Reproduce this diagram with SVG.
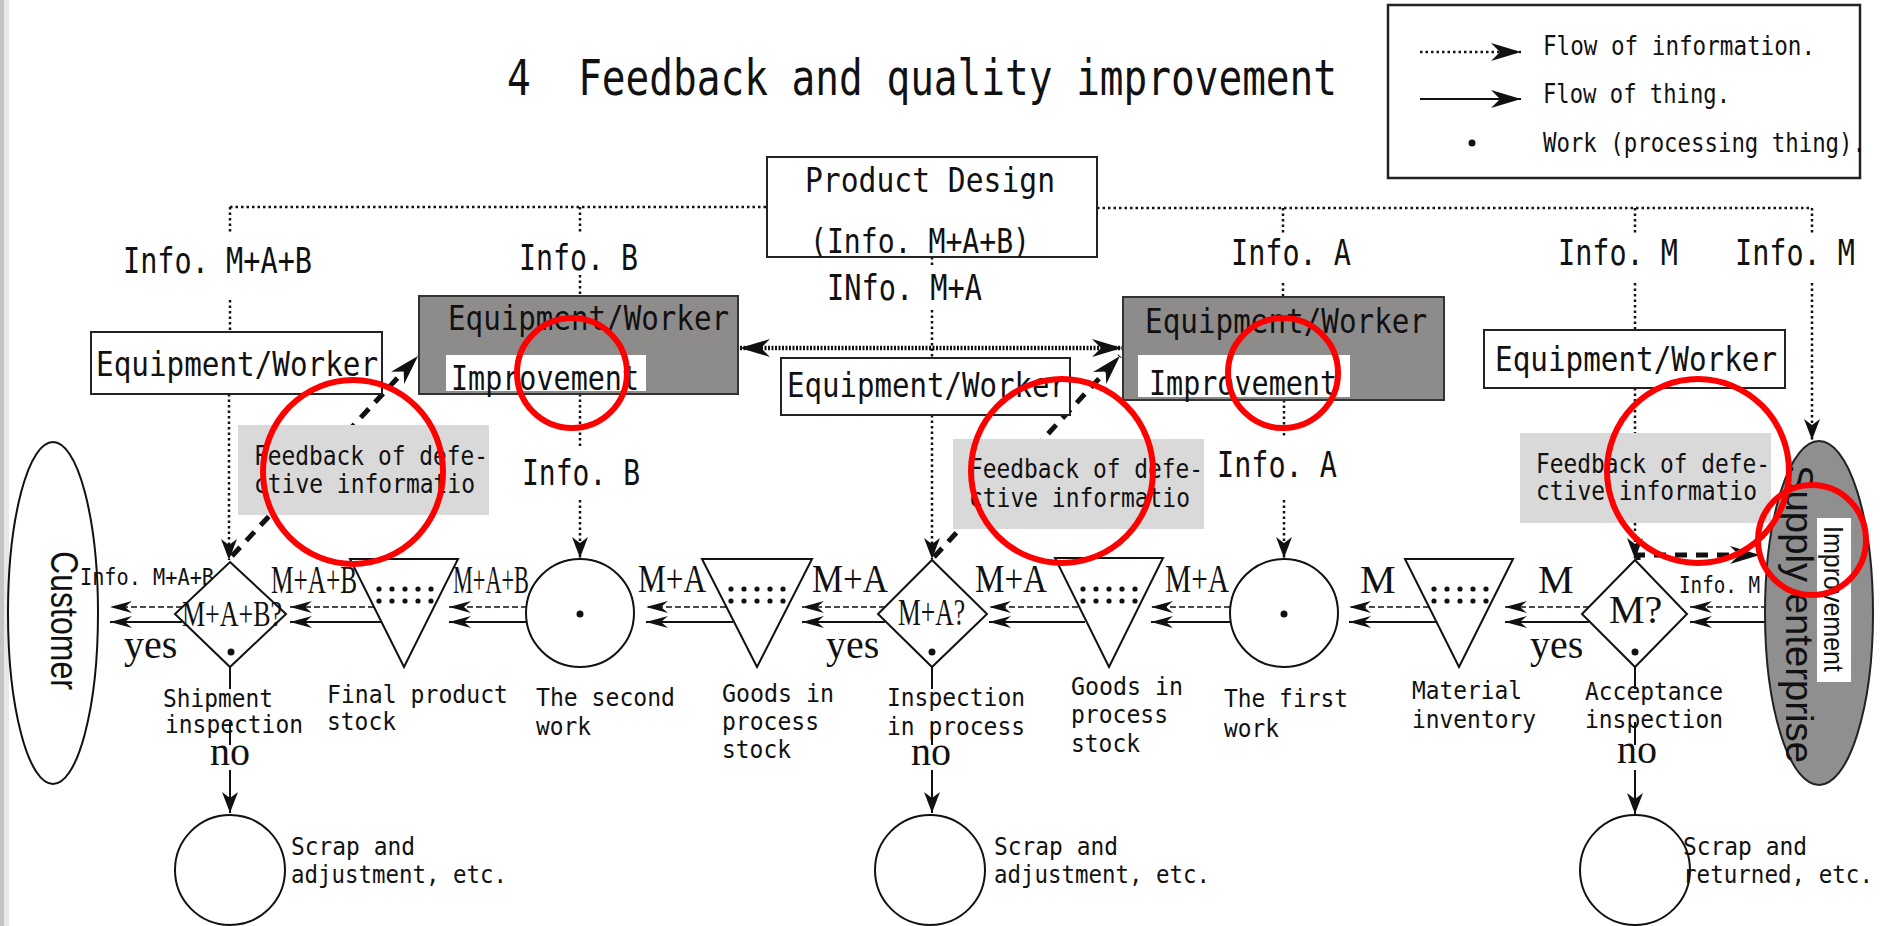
<svg xmlns="http://www.w3.org/2000/svg" width="1880" height="926" viewBox="0 0 1880 926">
<defs>
<style>
.g{font-family:"DejaVu Sans Mono","Liberation Mono",monospace;fill:#111}
.s{font-family:"Liberation Serif","DejaVu Serif",serif;fill:#111}
.ss{font-family:"Liberation Sans","DejaVu Sans",sans-serif;fill:#111}
.box{fill:#fff;stroke:#222;stroke-width:2}
.dark{fill:#8e8b8b;stroke:#333;stroke-width:2}
.inner{fill:#fff}
.fb{fill:#d9d9d9}
.shape{fill:#fff;stroke:#111;stroke-width:2}
.dot{stroke:#111;stroke-width:2.5;stroke-dasharray:2.5 3;fill:none}
.tdot{stroke:#111;stroke-width:4.5;stroke-dasharray:2 1.5;fill:none}
.dash{stroke:#111;stroke-width:1.6;stroke-dasharray:6 3;fill:none}
.solid{stroke:#111;stroke-width:2;fill:none}
.thick{stroke:#111;stroke-width:5;stroke-dasharray:12 9;fill:none}
.red{fill:none;stroke:#f00;stroke-width:6}
.pt{fill:#111}
</style>
<marker id="af" markerUnits="userSpaceOnUse" markerWidth="24" markerHeight="14" refX="22" refY="7" orient="auto"><path d="M0,1 L22,7 L0,13 L7,7 z" fill="#111"/></marker>
<marker id="ab" markerUnits="userSpaceOnUse" markerWidth="32" markerHeight="20" refX="30" refY="10" orient="auto-start-reverse"><path d="M0,1 L30,10 L0,19 L9,10 z" fill="#111"/></marker>
<marker id="av" markerUnits="userSpaceOnUse" markerWidth="22" markerHeight="18" refX="21" refY="9" orient="auto"><path d="M0,1 L21,9 L0,17 L6,9 z" fill="#111"/></marker>
</defs>
<rect x="0" y="0" width="1880" height="926" fill="#fff"/>
<rect x="0" y="0" width="4" height="926" fill="#c4c4c4"/>
<rect x="4" y="0" width="5" height="926" fill="#e8e8e8"/>

<g id="title"><text class="g" x="507" y="95" font-size="50" textLength="830" lengthAdjust="spacingAndGlyphs" xml:space="preserve">4  Feedback and quality improvement</text></g>

<g id="legend">
<rect x="1388" y="5" width="472" height="173" fill="#fff" stroke="#222" stroke-width="2.5"/>
<path class="dot" d="M1420,52 H1521" marker-end="url(#ab)"/>
<path class="solid" d="M1420,99 H1521" marker-end="url(#ab)"/>
<circle class="pt" cx="1472" cy="143" r="3.5"/>
<text class="g" x="1543" y="55" font-size="27" textLength="272" lengthAdjust="spacingAndGlyphs">Flow of information.</text>
<text class="g" x="1543" y="103" font-size="27" textLength="187" lengthAdjust="spacingAndGlyphs">Flow of thing.</text>
<text class="g" x="1543" y="152" font-size="27" textLength="323" lengthAdjust="spacingAndGlyphs">Work (processing thing).</text>
</g>

<g id="connectors">
<path class="dot" d="M230,207 H767 M1097,208 H1812"/>
<path class="dot" d="M230,207 V233 M580,207 V233 M1283,208 V233 M1635,208 V233 M1812,208 V233"/>
<path class="dot" d="M230,300 V332 M580,275 V296 M1283,283 V296 M1635,283 V330 M932,257 V268 M932,310 V358 M580,394 V447 M1284,400 V437 M1635,388 V433"/>
<path class="dot" d="M1812,283 V440" marker-end="url(#av)"/>
<path class="dot" d="M932,415 V559" marker-end="url(#av)"/>
<path class="dot" d="M229,394 V560" marker-end="url(#av)"/>
<path class="dot" d="M580,500 V558" marker-end="url(#av)"/>
<path class="dot" d="M1284,500 V558" marker-end="url(#av)"/>
<path class="dot" d="M1635,523 V559" marker-end="url(#av)"/>
<path class="tdot" d="M740,348 H1122" marker-start="url(#ab)" marker-end="url(#ab)"/>
<path class="thick" d="M232,556 L418,356" marker-end="url(#ab)"/>
<path class="thick" d="M934,557 L1120,356" marker-end="url(#ab)"/>
<path class="thick" d="M1638,560 V555 H1760" marker-end="url(#ab)"/>
<g marker-end="url(#af)">
<path class="dash" d="M1767,607 H1690"/><path class="solid" d="M1767,622 H1690"/>
<path class="dash" d="M1589,607 H1505"/><path class="solid" d="M1589,622 H1505"/>
<path class="dash" d="M1429,607 H1349"/><path class="solid" d="M1436,622 H1349"/>
<path class="dash" d="M1230,607 H1151"/><path class="solid" d="M1230,622 H1151"/>
<path class="dash" d="M1078,607 H989"/><path class="solid" d="M1085,622 H989"/>
<path class="dash" d="M885,607 H802"/><path class="solid" d="M885,622 H802"/>
<path class="dash" d="M726,607 H646"/><path class="solid" d="M733,622 H646"/>
<path class="dash" d="M527,607 H449"/><path class="solid" d="M527,622 H449"/>
<path class="dash" d="M374,607 H290"/><path class="solid" d="M381,622 H290"/>
<path class="dash" d="M182,607 H110"/><path class="solid" d="M182,622 H110"/>
</g>
<path class="solid" d="M230,667 V689 M230,722 V745 M932,667 V689 M932,722 V745 M1635,667 V689 M1635,722 V745"/>
<g marker-end="url(#av)">
<path class="solid" d="M230,770 V813"/>
<path class="solid" d="M932,770 V813"/>
<path class="solid" d="M1635,770 V814"/>
</g>
</g>

<g id="product-design">
<rect class="box" x="767" y="157" width="330" height="100"/>
<text class="g" x="805" y="192" font-size="33" textLength="250" lengthAdjust="spacingAndGlyphs">Product Design</text>
<text class="g" x="810" y="253" font-size="34" textLength="220" lengthAdjust="spacingAndGlyphs">(Info. M+A+B)</text>
</g>

<g id="info-labels">
<text class="g" x="123" y="273" font-size="35" textLength="189" lengthAdjust="spacingAndGlyphs">Info. M+A+B</text>
<text class="g" x="519" y="270" font-size="35" textLength="119" lengthAdjust="spacingAndGlyphs">Info. B</text>
<text class="g" x="827" y="300" font-size="35" textLength="155" lengthAdjust="spacingAndGlyphs">INfo. M+A</text>
<text class="g" x="1231" y="265" font-size="35" textLength="120" lengthAdjust="spacingAndGlyphs">Info. A</text>
<text class="g" x="1558" y="265" font-size="35" textLength="120" lengthAdjust="spacingAndGlyphs">Info. M</text>
<text class="g" x="1735" y="265" font-size="35" textLength="120" lengthAdjust="spacingAndGlyphs">Info. M</text>
<text class="g" x="522" y="485" font-size="35" textLength="118" lengthAdjust="spacingAndGlyphs">Info. B</text>
<text class="g" x="1217" y="477" font-size="35" textLength="120" lengthAdjust="spacingAndGlyphs">Info. A</text>
</g>

<g id="improve-b">
<rect class="dark" x="419" y="296" width="319" height="98"/>
<rect class="inner" x="446" y="355" width="200" height="36"/>
<text class="g" x="448" y="330" font-size="34" textLength="281" lengthAdjust="spacingAndGlyphs">Equipment/Worker</text>
<text class="g" x="451" y="390" font-size="34" textLength="188" lengthAdjust="spacingAndGlyphs">Improvement</text>
</g>

<g id="improve-a">
<rect class="dark" x="1123" y="297" width="321" height="103"/>
<rect class="inner" x="1138" y="355" width="212" height="42"/>
<text class="g" x="1145" y="333" font-size="34" textLength="282" lengthAdjust="spacingAndGlyphs">Equipment/Worker</text>
<text class="g" x="1149" y="395" font-size="34" textLength="188" lengthAdjust="spacingAndGlyphs">Improvement</text>
</g>

<g id="ew-shipment">
<rect class="box" x="91" y="332" width="291" height="62"/>
<text class="g" x="96" y="376" font-size="34" textLength="282" lengthAdjust="spacingAndGlyphs">Equipment/Worker</text>
</g>
<g id="ew-process">
<rect class="box" x="781" y="358" width="289" height="57"/>
<text class="g" x="787" y="397" font-size="34" textLength="280" lengthAdjust="spacingAndGlyphs">Equipment/Worker</text>
</g>
<g id="ew-acceptance">
<rect class="box" x="1484" y="330" width="301" height="58"/>
<text class="g" x="1495" y="371" font-size="34" textLength="282" lengthAdjust="spacingAndGlyphs">Equipment/Worker</text>
</g>

<g id="feedback-1">
<rect class="fb" x="238" y="425" width="251" height="90"/>
<text class="g" x="254" y="465" font-size="27" textLength="234" lengthAdjust="spacingAndGlyphs">Feedback of defe-</text>
<text class="g" x="254" y="493" font-size="27" textLength="221" lengthAdjust="spacingAndGlyphs">ctive informatio</text>
</g>
<g id="feedback-2">
<rect class="fb" x="953" y="439" width="251" height="90"/>
<text class="g" x="969" y="478" font-size="27" textLength="234" lengthAdjust="spacingAndGlyphs">Feedback of defe-</text>
<text class="g" x="969" y="507" font-size="27" textLength="221" lengthAdjust="spacingAndGlyphs">ctive informatio</text>
</g>
<g id="feedback-3">
<rect class="fb" x="1520" y="433" width="251" height="90"/>
<text class="g" x="1536" y="473" font-size="27" textLength="234" lengthAdjust="spacingAndGlyphs">Feedback of defe-</text>
<text class="g" x="1536" y="500" font-size="27" textLength="221" lengthAdjust="spacingAndGlyphs">ctive informatio</text>
</g>

<g id="customer">
<ellipse class="shape" cx="53" cy="613" rx="45" ry="171"/>
<text class="ss" transform="translate(51,551) rotate(90)" font-size="38" textLength="139" lengthAdjust="spacingAndGlyphs">Customer</text>
<text class="g" x="80" y="585" font-size="23" textLength="134" lengthAdjust="spacingAndGlyphs">Info. M+A+B</text>
</g>

<g id="supply">
<ellipse cx="1819" cy="613" rx="54" ry="172" fill="#8f8f8f" stroke="#222" stroke-width="2"/>
<text class="ss" transform="translate(1786,465) rotate(90)" font-size="38" textLength="298" lengthAdjust="spacingAndGlyphs">Supply enterprise</text>
<rect class="inner" x="1817" y="518" width="34" height="164"/>
<text class="ss" transform="translate(1824,526) rotate(90)" font-size="28" textLength="146" lengthAdjust="spacingAndGlyphs">Improvement</text>
<text class="g" x="1679" y="593" font-size="23" textLength="81" lengthAdjust="spacingAndGlyphs">Info. M</text>
</g>

<g id="shipment-inspection">
<path class="shape" d="M230,562 L286,614 L230,667 L175,614 Z"/>
<circle class="pt" cx="231" cy="652" r="3.5"/>
<text class="s" x="182" y="626" font-size="36" textLength="100" lengthAdjust="spacingAndGlyphs">M+A+B?</text>
<text class="s" x="124" y="658" font-size="40">yes</text>
<text class="g" x="163" y="707" font-size="25" textLength="110" lengthAdjust="spacingAndGlyphs">Shipment</text>
<text class="g" x="165" y="733" font-size="25" textLength="138" lengthAdjust="spacingAndGlyphs">inspection</text>
<text class="s" x="210" y="765" font-size="40">no</text>
</g>

<g id="final-product-stock">
<path class="shape" d="M350,559 L458,559 L404,667 Z"/>
<g class="pt"><circle cx="379" cy="589" r="2.6"/><circle cx="392" cy="589" r="2.6"/><circle cx="405" cy="589" r="2.6"/><circle cx="418" cy="589" r="2.6"/><circle cx="431" cy="589" r="2.6"/><circle cx="379" cy="601" r="2.6"/><circle cx="392" cy="601" r="2.6"/><circle cx="405" cy="601" r="2.6"/><circle cx="418" cy="601" r="2.6"/><circle cx="431" cy="601" r="2.6"/></g>
<text class="s" x="271" y="593" font-size="40" textLength="86" lengthAdjust="spacingAndGlyphs">M+A+B</text>
<text class="s" x="453" y="593" font-size="40" textLength="76" lengthAdjust="spacingAndGlyphs">M+A+B</text>
<text class="g" x="327" y="703" font-size="25" textLength="181" lengthAdjust="spacingAndGlyphs">Final product</text>
<text class="g" x="327" y="730" font-size="25" textLength="69" lengthAdjust="spacingAndGlyphs">stock</text>
</g>

<g id="second-work">
<circle class="shape" cx="580" cy="613" r="54"/>
<circle class="pt" cx="580" cy="614" r="3.5"/>
<text class="g" x="536" y="706" font-size="25" textLength="139" lengthAdjust="spacingAndGlyphs">The second</text>
<text class="g" x="536" y="735" font-size="25" textLength="55" lengthAdjust="spacingAndGlyphs">work</text>
</g>

<g id="goods-in-process-b">
<path class="shape" d="M702,559 L812,559 L757,667 Z"/>
<g class="pt"><circle cx="731" cy="589" r="2.6"/><circle cx="744" cy="589" r="2.6"/><circle cx="757" cy="589" r="2.6"/><circle cx="770" cy="589" r="2.6"/><circle cx="783" cy="589" r="2.6"/><circle cx="731" cy="601" r="2.6"/><circle cx="744" cy="601" r="2.6"/><circle cx="757" cy="601" r="2.6"/><circle cx="770" cy="601" r="2.6"/><circle cx="783" cy="601" r="2.6"/></g>
<text class="s" x="638" y="592" font-size="40" textLength="68" lengthAdjust="spacingAndGlyphs">M+A</text>
<text class="s" x="812" y="592" font-size="40" textLength="76" lengthAdjust="spacingAndGlyphs">M+A</text>
<text class="g" x="722" y="702" font-size="25" textLength="112" lengthAdjust="spacingAndGlyphs">Goods in</text>
<text class="g" x="722" y="730" font-size="25" textLength="97" lengthAdjust="spacingAndGlyphs">process</text>
<text class="g" x="722" y="758" font-size="25" textLength="69" lengthAdjust="spacingAndGlyphs">stock</text>
</g>

<g id="inspection-in-process">
<path class="shape" d="M932,560 L987,614 L932,667 L878,614 Z"/>
<circle class="pt" cx="932" cy="652" r="3.5"/>
<text class="s" x="898" y="625" font-size="38" textLength="67" lengthAdjust="spacingAndGlyphs">M+A?</text>
<text class="s" x="826" y="658" font-size="40">yes</text>
<text class="g" x="887" y="706" font-size="25" textLength="138" lengthAdjust="spacingAndGlyphs">Inspection</text>
<text class="g" x="887" y="735" font-size="25" textLength="138" lengthAdjust="spacingAndGlyphs">in process</text>
<text class="s" x="911" y="765" font-size="40">no</text>
</g>

<g id="goods-in-process-a">
<path class="shape" d="M1055,558 L1163,558 L1109,667 Z"/>
<g class="pt"><circle cx="1083" cy="589" r="2.6"/><circle cx="1096" cy="589" r="2.6"/><circle cx="1109" cy="589" r="2.6"/><circle cx="1122" cy="589" r="2.6"/><circle cx="1135" cy="589" r="2.6"/><circle cx="1083" cy="601" r="2.6"/><circle cx="1096" cy="601" r="2.6"/><circle cx="1109" cy="601" r="2.6"/><circle cx="1122" cy="601" r="2.6"/><circle cx="1135" cy="601" r="2.6"/></g>
<text class="s" x="975" y="592" font-size="40" textLength="72" lengthAdjust="spacingAndGlyphs">M+A</text>
<text class="s" x="1165" y="592" font-size="40" textLength="64" lengthAdjust="spacingAndGlyphs">M+A</text>
<text class="g" x="1071" y="695" font-size="25" textLength="112" lengthAdjust="spacingAndGlyphs">Goods in</text>
<text class="g" x="1071" y="723" font-size="25" textLength="97" lengthAdjust="spacingAndGlyphs">process</text>
<text class="g" x="1071" y="752" font-size="25" textLength="69" lengthAdjust="spacingAndGlyphs">stock</text>
</g>

<g id="first-work">
<circle class="shape" cx="1284" cy="613" r="54"/>
<circle class="pt" cx="1284" cy="614" r="3.5"/>
<text class="g" x="1224" y="707" font-size="25" textLength="124" lengthAdjust="spacingAndGlyphs">The first</text>
<text class="g" x="1224" y="737" font-size="25" textLength="55" lengthAdjust="spacingAndGlyphs">work</text>
</g>

<g id="material-inventory">
<path class="shape" d="M1405,559 L1513,559 L1459,667 Z"/>
<g class="pt"><circle cx="1434" cy="589" r="2.6"/><circle cx="1447" cy="589" r="2.6"/><circle cx="1460" cy="589" r="2.6"/><circle cx="1473" cy="589" r="2.6"/><circle cx="1486" cy="589" r="2.6"/><circle cx="1434" cy="601" r="2.6"/><circle cx="1447" cy="601" r="2.6"/><circle cx="1460" cy="601" r="2.6"/><circle cx="1473" cy="601" r="2.6"/><circle cx="1486" cy="601" r="2.6"/></g>
<text class="s" x="1360" y="593" font-size="40">M</text>
<text class="s" x="1538" y="593" font-size="40">M</text>
<text class="g" x="1412" y="699" font-size="25" textLength="110" lengthAdjust="spacingAndGlyphs">Material</text>
<text class="g" x="1412" y="728" font-size="25" textLength="124" lengthAdjust="spacingAndGlyphs">inventory</text>
</g>

<g id="acceptance-inspection">
<path class="shape" d="M1635,560 L1687,614 L1635,667 L1582,614 Z"/>
<circle class="pt" cx="1635" cy="652" r="3.5"/>
<text class="s" x="1609" y="623" font-size="40">M?</text>
<text class="s" x="1530" y="658" font-size="40">yes</text>
<text class="g" x="1585" y="700" font-size="25" textLength="138" lengthAdjust="spacingAndGlyphs">Acceptance</text>
<text class="g" x="1585" y="728" font-size="25" textLength="138" lengthAdjust="spacingAndGlyphs">inspection</text>
<text class="s" x="1617" y="763" font-size="40">no</text>
</g>

<g id="scrap-1">
<ellipse class="shape" cx="230" cy="870" rx="55" ry="55"/>
<text class="g" x="291" y="855" font-size="25" textLength="124" lengthAdjust="spacingAndGlyphs">Scrap and</text>
<text class="g" x="291" y="883" font-size="25" textLength="216" lengthAdjust="spacingAndGlyphs">adjustment, etc.</text>
</g>
<g id="scrap-2">
<ellipse class="shape" cx="930" cy="870" rx="55" ry="55"/>
<text class="g" x="994" y="855" font-size="25" textLength="124" lengthAdjust="spacingAndGlyphs">Scrap and</text>
<text class="g" x="994" y="883" font-size="25" textLength="216" lengthAdjust="spacingAndGlyphs">adjustment, etc.</text>
</g>
<g id="scrap-3">
<ellipse class="shape" cx="1635" cy="870" rx="55" ry="55"/>
<text class="g" x="1683" y="855" font-size="25" textLength="124" lengthAdjust="spacingAndGlyphs">Scrap and</text>
<text class="g" x="1683" y="883" font-size="25" textLength="190" lengthAdjust="spacingAndGlyphs">returned, etc.</text>
</g>

<g id="annotations">
<ellipse class="red" cx="353" cy="472" rx="90" ry="92"/>
<ellipse class="red" cx="572" cy="373" rx="55" ry="55"/>
<ellipse class="red" cx="1062" cy="471" rx="91" ry="92"/>
<ellipse class="red" cx="1283" cy="373" rx="55" ry="55"/>
<ellipse class="red" cx="1698" cy="471" rx="91" ry="92"/>
<ellipse class="red" cx="1812" cy="540" rx="54" ry="55"/>
</g>
</svg>
